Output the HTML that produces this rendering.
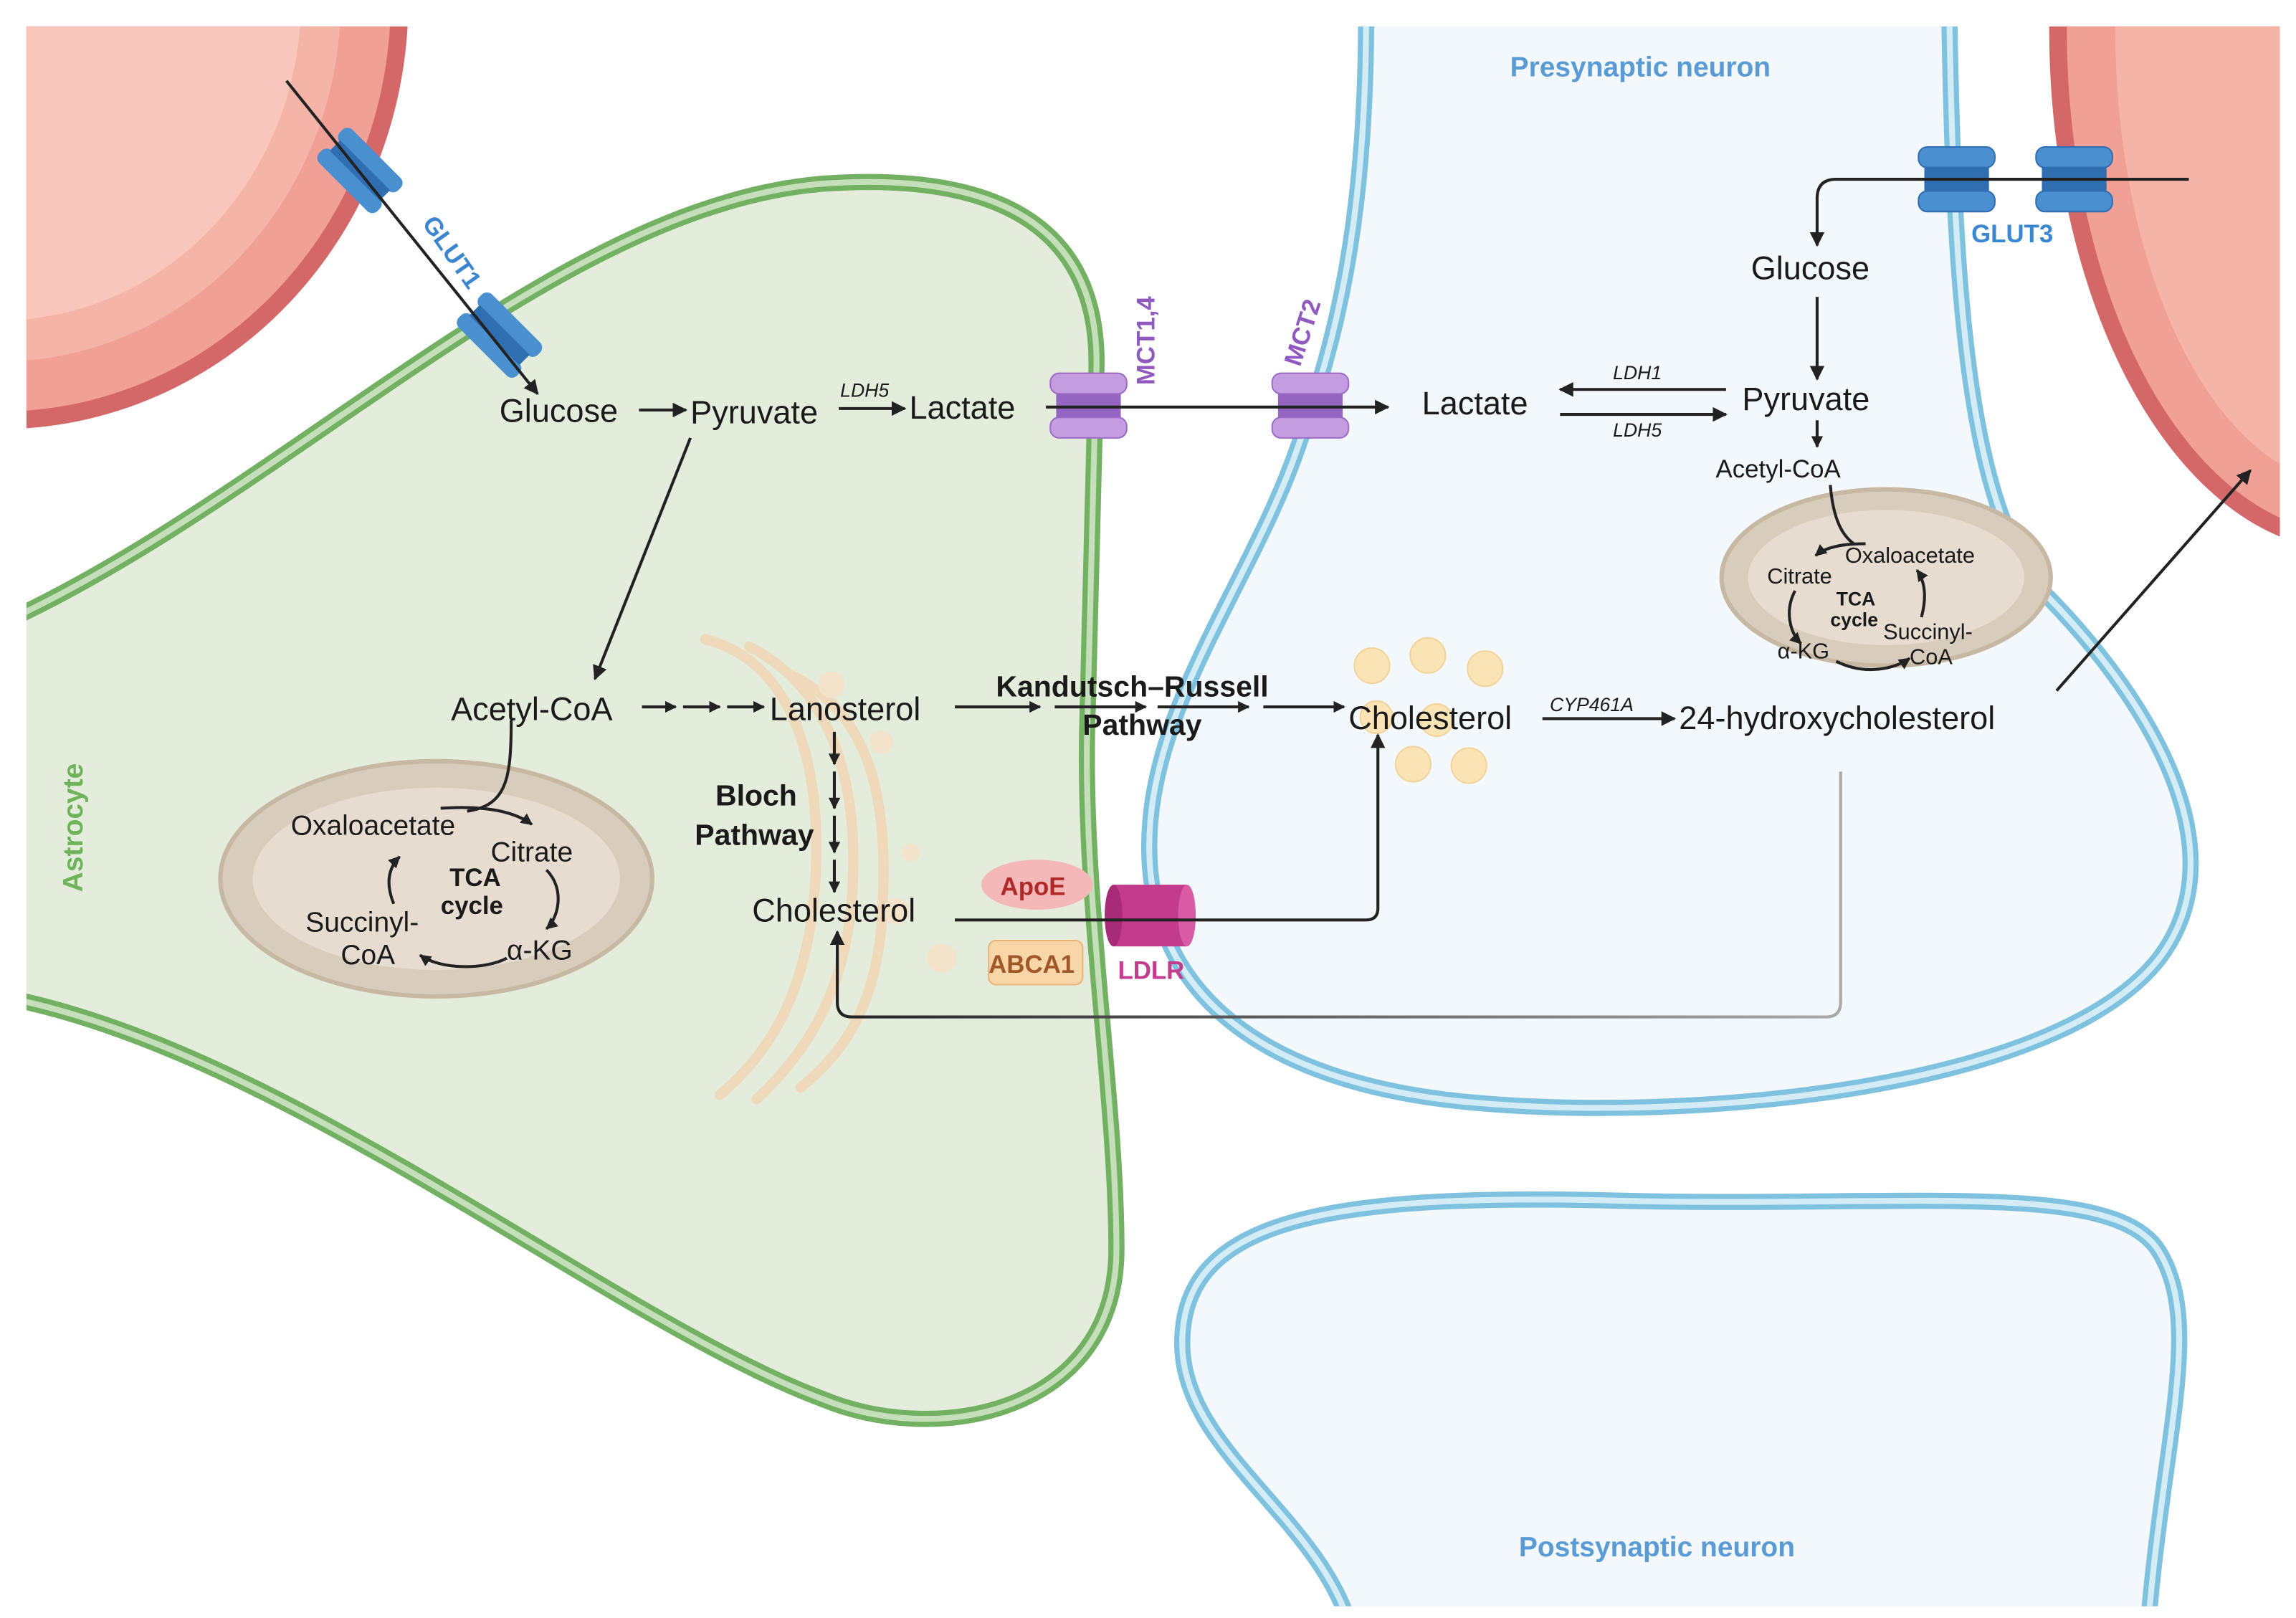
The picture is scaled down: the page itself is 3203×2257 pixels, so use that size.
<!DOCTYPE html>
<html><head><meta charset="utf-8"><style>
html,body{margin:0;padding:0;background:#fff;}
svg{display:block;}
text{font-family:"Liberation Sans",sans-serif;}
</style></head><body>
<svg width="3203" height="2257" viewBox="0 0 1563 1101" preserveAspectRatio="none" xmlns="http://www.w3.org/2000/svg">
<defs>
<marker id="a" viewBox="0 0 10 10" refX="9" refY="5" markerWidth="5" markerHeight="5" orient="auto"><path d="M0,0L10,5L0,10z" fill="#222"/></marker>
<marker id="s" viewBox="0 0 10 10" refX="9" refY="5" markerWidth="4" markerHeight="4" orient="auto"><path d="M0,0L10,5L0,10z" fill="#222"/></marker>
<clipPath id="c1"><rect x="18" y="18" width="1534" height="1075"/></clipPath>
<linearGradient id="g" x1="0" y1="0" x2="1" y2="0"><stop offset="0" stop-color="#222"/><stop offset="1" stop-color="#aaa"/></linearGradient>
</defs>
<rect width="1563" height="1101" fill="#fff"/>
<g clip-path="url(#c1)">
<ellipse cx="0" cy="0" rx="278" ry="292" fill="#d46868"/>
<ellipse cx="0" cy="0" rx="266" ry="280" fill="#f0a094"/>
<ellipse cx="0" cy="0" rx="232" ry="246" fill="#f5b4a8"/>
<ellipse cx="0" cy="0" rx="205" ry="218" fill="#f8c6bb"/>
<ellipse cx="1600" cy="20" rx="205" ry="355" fill="#d46868"/>
<ellipse cx="1600" cy="20" rx="193" ry="343" fill="#f0a094"/>
<ellipse cx="1600" cy="20" rx="160" ry="310" fill="#f5b4a8"/>
<path d="M10,420 C200,330 380,140 560,125 C700,115 752,170 746,260 L740,500 C738,620 760,750 760,850 C760,960 640,985 560,952 C420,900 200,720 10,680 Z" fill="#e4ecdb" stroke="#72b062" stroke-width="11"/>
<path d="M10,420 C200,330 380,140 560,125 C700,115 752,170 746,260 L740,500 C738,620 760,750 760,850 C760,960 640,985 560,952 C420,900 200,720 10,680 Z" fill="none" stroke="#c5dfba" stroke-width="4"/>
<path d="M930,10 C930,150 910,230 885,300 C855,390 790,470 783,560 C775,660 840,735 1000,750 C1150,764 1400,742 1470,652 C1530,572 1450,462 1390,402 C1340,342 1330,200 1327,10 Z" fill="#f3f8fc" stroke="#7fc2df" stroke-width="11"/>
<path d="M930,10 C930,150 910,230 885,300 C855,390 790,470 783,560 C775,660 840,735 1000,750 C1150,764 1400,742 1470,652 C1530,572 1450,462 1390,402 C1340,342 1330,200 1327,10" fill="none" stroke="#d4ecf6" stroke-width="4"/>
<path d="M920,1110 C900,1035 810,990 805,920 C800,830 900,812 1100,817 C1300,822 1440,802 1470,852 C1500,902 1472,980 1462,1110 Z" fill="#f3f8fc" stroke="#7fc2df" stroke-width="11"/>
<path d="M920,1110 C900,1035 810,990 805,920 C800,830 900,812 1100,817 C1300,822 1440,802 1470,852 C1500,902 1472,980 1462,1110" fill="none" stroke="#d4ecf6" stroke-width="4"/>
</g>
<ellipse cx="297" cy="598" rx="147" ry="80" fill="#d8cdbd" stroke="#c6b8a3" stroke-width="3"/>
<ellipse cx="297" cy="598" rx="125" ry="62" fill="#e6ddd0"/>
<ellipse cx="1284" cy="393" rx="112" ry="60" fill="#d8cdbd" stroke="#c6b8a3" stroke-width="3"/>
<ellipse cx="1284" cy="393" rx="94" ry="46" fill="#e6ddd0"/>
<g fill="none" stroke="#efd9bb" stroke-width="7" stroke-linecap="round">
<path d="M480,435 C540,450 560,520 555,600 C550,680 520,720 490,745"/>
<path d="M510,440 C570,470 585,540 580,610 C575,680 545,720 515,748"/>
<path d="M540,460 C600,490 605,560 600,630 C595,690 570,720 545,740"/>
</g>
<g fill="#f3e3cb"><circle cx="566" cy="466" r="9"/><circle cx="600" cy="505" r="8"/><circle cx="610" cy="620" r="9"/><circle cx="641" cy="652" r="10"/><circle cx="620" cy="580" r="6"/></g>
<g fill="#fae3b5" stroke="#f2d39a"><circle cx="934" cy="453" r="12"/><circle cx="972" cy="446" r="12"/><circle cx="1011" cy="455" r="12"/><circle cx="962" cy="520" r="12"/><circle cx="1000" cy="521" r="12"/><circle cx="937" cy="488" r="11"/><circle cx="978" cy="490" r="11"/></g>

<g transform="translate(245,116) rotate(45)"><rect x="-28" y="-16" width="56" height="12" rx="5" fill="#4a8fd0"/><rect x="-28" y="4" width="56" height="12" rx="5" fill="#4a8fd0"/><rect x="-24" y="-5" width="48" height="10" fill="#2f6eb0"/></g>
<g transform="translate(340,228) rotate(45)"><rect x="-28" y="-16" width="56" height="12" rx="5" fill="#4a8fd0"/><rect x="-28" y="4" width="56" height="12" rx="5" fill="#4a8fd0"/><rect x="-24" y="-5" width="48" height="10" fill="#2f6eb0"/></g>
<g transform="translate(1332,122)"><rect x="-26" y="-22" width="52" height="14" rx="6" fill="#4a8fd0" stroke="#2f6eb0"/><rect x="-26" y="8" width="52" height="14" rx="6" fill="#4a8fd0" stroke="#2f6eb0"/><rect x="-22" y="-8" width="44" height="16" fill="#2f6eb0"/></g>
<g transform="translate(1412,122)"><rect x="-26" y="-22" width="52" height="14" rx="6" fill="#4a8fd0" stroke="#2f6eb0"/><rect x="-26" y="8" width="52" height="14" rx="6" fill="#4a8fd0" stroke="#2f6eb0"/><rect x="-22" y="-8" width="44" height="16" fill="#2f6eb0"/></g>
<g transform="translate(741,276)"><rect x="-26" y="-22" width="52" height="14" rx="6" fill="#c39de0" stroke="#9c6cc6"/><rect x="-26" y="8" width="52" height="14" rx="6" fill="#c39de0" stroke="#9c6cc6"/><rect x="-22" y="-8" width="44" height="16" fill="#9565c2"/></g>
<g transform="translate(892,276)"><rect x="-26" y="-22" width="52" height="14" rx="6" fill="#c39de0" stroke="#9c6cc6"/><rect x="-26" y="8" width="52" height="14" rx="6" fill="#c39de0" stroke="#9c6cc6"/><rect x="-22" y="-8" width="44" height="16" fill="#9565c2"/></g>
<rect x="758" y="602" width="50" height="42" fill="#c23b8c"/><ellipse cx="758" cy="623" rx="6" ry="21" fill="#a82b78"/><ellipse cx="808" cy="623" rx="6" ry="21" fill="#d95aa5"/>
<ellipse cx="706" cy="602" rx="38" ry="17" fill="#f4b8b8"/>
<rect x="673" y="640" width="64" height="30" rx="5" fill="#f8d6a8" stroke="#e7b47a"/>

<g stroke="#222" stroke-width="2" fill="none">
<line x1="195" y1="55" x2="366" y2="268" marker-end="url(#a)"/>
<line x1="435" y1="279" x2="467" y2="279" marker-end="url(#a)"/>
<line x1="571" y1="278" x2="616" y2="278" marker-end="url(#a)"/>
<line x1="712" y1="277" x2="945" y2="277" marker-end="url(#a)"/>
<line x1="470" y1="298" x2="405" y2="462" marker-end="url(#a)"/>
<line x1="437" y1="481" x2="460" y2="481" marker-end="url(#s)"/>
<line x1="465" y1="481" x2="490" y2="481" marker-end="url(#s)"/>
<line x1="495" y1="481" x2="520" y2="481" marker-end="url(#s)"/>
<line x1="650" y1="481" x2="708" y2="481" marker-end="url(#s)"/>
<line x1="718" y1="481" x2="780" y2="481" marker-end="url(#s)"/>
<line x1="788" y1="481" x2="850" y2="481" marker-end="url(#s)"/>
<line x1="860" y1="481" x2="915" y2="481" marker-end="url(#s)"/>
<line x1="568" y1="498" x2="568" y2="520" marker-end="url(#s)"/>
<line x1="568" y1="525" x2="568" y2="550" marker-end="url(#s)"/>
<line x1="568" y1="555" x2="568" y2="580" marker-end="url(#s)"/>
<line x1="568" y1="585" x2="568" y2="607" marker-end="url(#s)"/>
<path d="M348,490 C348,530 345,548 318,552"/>
<path d="M300,550 C330,548 350,552 362,561" marker-end="url(#s)"/>
<path d="M372,592 C385,605 380,625 372,632" marker-end="url(#s)"/>
<path d="M345,652 C330,660 300,660 286,650" marker-end="url(#s)"/>
<path d="M268,615 C262,600 265,590 272,583" marker-end="url(#s)"/>
<path d="M650,626 L930,626 Q938,626 938,618 L938,500" marker-end="url(#a)"/>
<line x1="1050" y1="489" x2="1140" y2="489" marker-end="url(#a)"/>
<line x1="1400" y1="470" x2="1532" y2="320" marker-end="url(#a)"/>
<path d="M1490,122 L1250,122 Q1237,122 1237,135 L1237,167" marker-end="url(#a)"/>
<line x1="1237" y1="202" x2="1237" y2="258" marker-end="url(#a)"/>
<line x1="1175" y1="265" x2="1062" y2="265" marker-end="url(#a)"/>
<line x1="1062" y1="282" x2="1175" y2="282" marker-end="url(#a)"/>
<line x1="1237" y1="286" x2="1237" y2="304" marker-end="url(#s)"/>
<path d="M1246,330 C1248,355 1255,365 1262,370"/>
<path d="M1270,370 C1255,370 1243,372 1236,378" marker-end="url(#s)"/>
<path d="M1222,402 C1215,415 1218,430 1226,438" marker-end="url(#s)"/>
<path d="M1250,450 C1270,460 1290,455 1300,448" marker-end="url(#s)"/>
<path d="M1308,420 C1312,405 1310,395 1305,388" marker-end="url(#s)"/>
</g>
<path d="M1253,525 L1253,682 Q1253,692 1243,692 L580,692 Q570,692 570,682 L570,634" stroke="url(#g)" stroke-width="2" fill="none" marker-end="url(#a)"/>

<g font-size="22" fill="#1a1a1a">
<text x="340" y="287">Glucose</text>
<text x="470" y="288">Pyruvate</text>
<text x="619" y="285">Lactate</text>
<text x="307" y="490">Acetyl-CoA</text>
<text x="524" y="490">Lanosterol</text>
<text x="512" y="627">Cholesterol</text>
<text x="918" y="496">Cholesterol</text>
<text x="1143" y="496">24-hydroxycholesterol</text>
<text x="968" y="282">Lactate</text>
<text x="1186" y="279">Pyruvate</text>
<text x="1192" y="190">Glucose</text>
</g>
<g font-size="19" fill="#1a1a1a">
<text x="198" y="568">Oxaloacetate</text>
<text x="334" y="586">Citrate</text>
<text x="208" y="634">Succinyl-</text>
<text x="232" y="656">CoA</text>
<text x="345" y="653">α-KG</text>
<text x="1168" y="325" font-size="17">Acetyl-CoA</text>
</g>
<g font-size="15" fill="#1a1a1a">
<text x="1256" y="383">Oxaloacetate</text>
<text x="1203" y="397">Citrate</text>
<text x="1282" y="435">Succinyl-</text>
<text x="1300" y="452">CoA</text>
<text x="1210" y="448">α-KG</text>
<text x="1250" y="412" font-size="13" font-weight="bold">TCA</text>
<text x="1246" y="426" font-size="13" font-weight="bold">cycle</text>
</g>
<text x="306" y="603" font-size="17" font-weight="bold" fill="#1a1a1a">TCA</text>
<text x="300" y="622" font-size="17" font-weight="bold" fill="#1a1a1a">cycle</text>
<g font-size="13" font-style="italic" fill="#1a1a1a">
<text x="572" y="270">LDH5</text>
<text x="1098" y="258">LDH1</text>
<text x="1098" y="297">LDH5</text>
<text x="1055" y="484">CYP461A</text>
</g>
<g font-size="20" font-weight="bold" fill="#1a1a1a">
<text x="678" y="474">Kandutsch–Russell</text>
<text x="737" y="500">Pathway</text>
<text x="487" y="548">Bloch</text>
<text x="473" y="575">Pathway</text>
</g>
<text x="1028" y="52" font-size="19" font-weight="bold" fill="#5b9bd5">Presynaptic neuron</text>
<text x="1034" y="1059" font-size="19" font-weight="bold" fill="#5b9bd5">Postsynaptic neuron</text>
<text x="1342" y="165" font-size="17" font-weight="bold" fill="#3a86d0">GLUT3</text>
<text transform="translate(287,152) rotate(55)" font-size="17" font-weight="bold" fill="#3a86d0">GLUT1</text>
<text transform="translate(786,262) rotate(-90)" font-size="17" font-weight="bold" fill="#9059c0">MCT1,4</text>
<text transform="translate(885,250) rotate(-72)" font-size="17" font-weight="bold" fill="#9059c0">MCT2</text>
<text transform="translate(56,607) rotate(-90)" font-size="19" font-weight="bold" fill="#6fb35a">Astrocyte</text>
<text x="681" y="609" font-size="17" font-weight="bold" fill="#b02a2a">ApoE</text>
<text x="673" y="662" font-size="17" font-weight="bold" fill="#a0582a">ABCA1</text>
<text x="761" y="666" font-size="17" font-weight="bold" fill="#c23b8c">LDLR</text>
</svg>
</body></html>
